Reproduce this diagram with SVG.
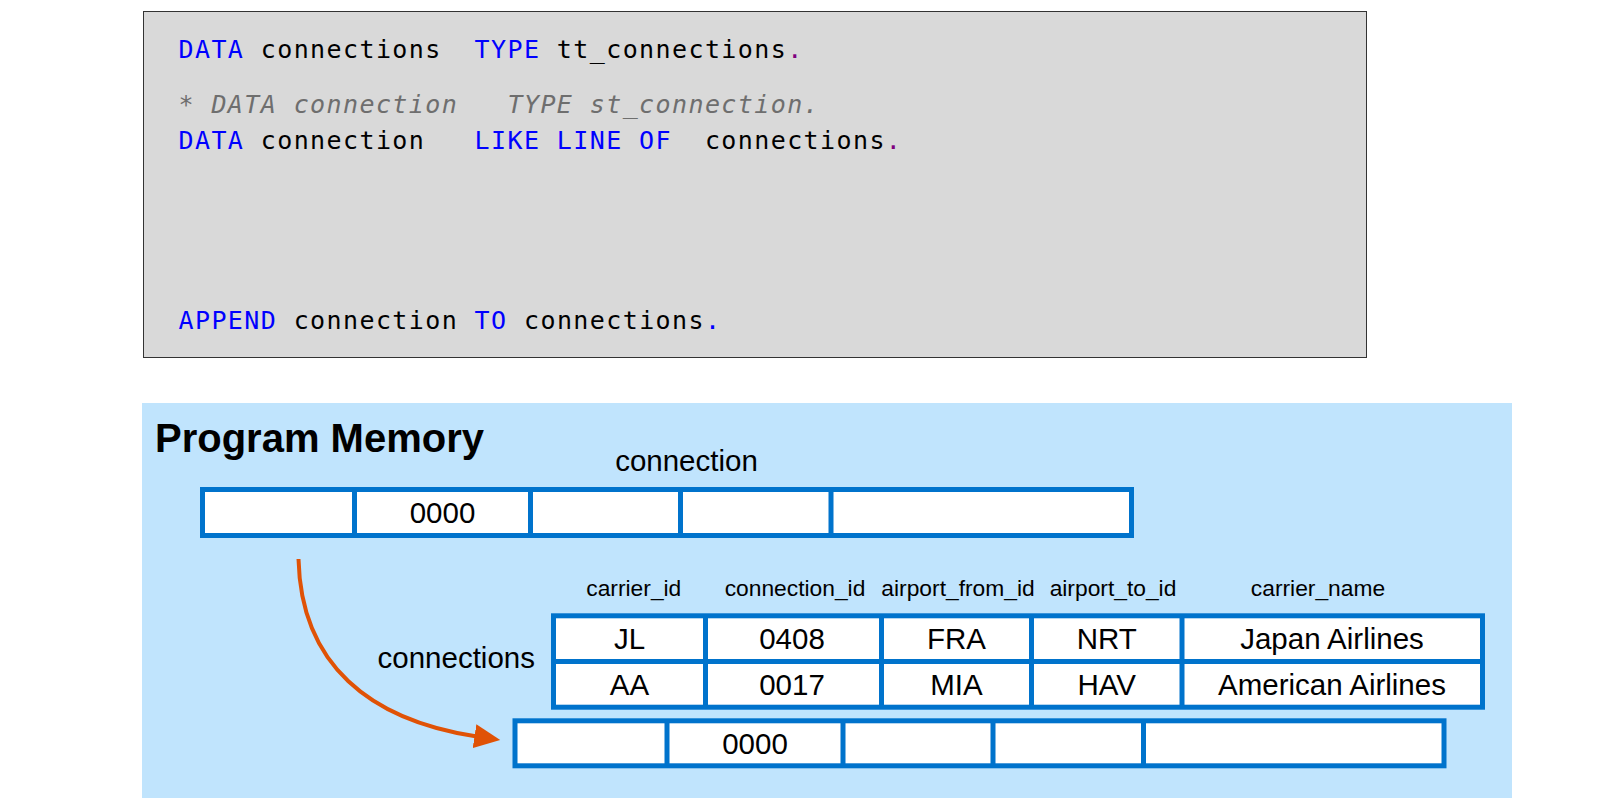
<svg xmlns="http://www.w3.org/2000/svg" width="1600" height="810" viewBox="0 0 1600 810">
<defs>
<style>
.code{font-family:"DejaVu Sans Mono",monospace;font-size:25px;letter-spacing:1.4px;fill:#000}
.kw{fill:#0000ff}
.pu{fill:#800080}
.cm{fill:#6e6e6e;font-style:italic}
.cell{fill:#fff;stroke:#0073cc;stroke-width:5}
.div{stroke:#0073cc;stroke-width:5;fill:none}
.val{font-family:"Liberation Sans",Arial,sans-serif;font-size:29.5px;fill:#000;text-anchor:middle}
.hdr{font-family:"Liberation Sans",Arial,sans-serif;font-size:22.8px;fill:#000;text-anchor:middle}
.lbl{font-family:"Liberation Sans",Arial,sans-serif;font-size:29.5px;fill:#000}
.arrow{fill:none;stroke:#e05206;stroke-width:4}
</style>
<marker id="ah" markerUnits="userSpaceOnUse" markerWidth="27" markerHeight="26" viewBox="0 0 27 26" refX="1" refY="13" orient="auto">
<path d="M0,1 L26,13 L0,25 z" fill="#e05206"/>
</marker>
</defs>
<rect width="1600" height="810" fill="#fff"/>

<g id="code-box">
<rect x="143.5" y="11.5" width="1223" height="346" fill="#d9d9d9" stroke="#333" stroke-width="1"/>
<text class="code" y="57.7"><tspan class="kw" x="178.5">DATA</tspan><tspan x="260.75">connections</tspan><tspan class="kw" x="474.6">TYPE</tspan><tspan x="556.85">tt_connections</tspan><tspan class="pu" x="787.2">.</tspan></text>
<text class="code cm" y="113"><tspan x="178.5">*</tspan><tspan x="211.4">DATA connection</tspan><tspan x="507.5">TYPE st_connection.</tspan></text>
<text class="code" y="149"><tspan class="kw" x="178.5">DATA</tspan><tspan x="260.75">connection</tspan><tspan class="kw" x="474.6">LIKE</tspan><tspan class="kw" x="556.85">LINE</tspan><tspan class="kw" x="639.1">OF</tspan><tspan x="704.9">connections</tspan><tspan class="pu" x="885.85">.</tspan></text>
<text class="code" y="329"><tspan class="kw" x="178.5">APPEND</tspan><tspan x="293.65">connection</tspan><tspan class="kw" x="474.6">TO</tspan><tspan x="524">connections</tspan><tspan class="kw" x="704.9">.</tspan></text>
</g>

<g id="memory-panel">
<rect x="142" y="403" width="1370" height="395" fill="#c0e4fd"/>
<text x="155" y="451.7" font-family="'Liberation Sans',Arial,sans-serif" font-size="40" font-weight="bold" fill="#000">Program Memory</text>
</g>

<g id="connection-row">
<text class="lbl" x="686.5" y="471" text-anchor="middle">connection</text>
<rect class="cell" x="202.5" y="489.5" width="929" height="46"/>
<path class="div" d="M354.5,489.5V535.5M530.5,489.5V535.5M680.5,489.5V535.5M831,489.5V535.5"/>
<text class="val" x="442.5" y="523.2">0000</text>
</g>

<g id="connections-table">
<text class="lbl" x="377.5" y="667.7">connections</text>
<text class="hdr" x="633.8" y="595.5">carrier_id</text>
<text class="hdr" x="795" y="595.5">connection_id</text>
<text class="hdr" x="958" y="595.5">airport_from_id</text>
<text class="hdr" x="1113" y="595.5">airport_to_id</text>
<text class="hdr" x="1318" y="595.5">carrier_name</text>
<rect class="cell" x="553.5" y="615.8" width="929" height="91.4"/>
<path class="div" d="M553.5,661.5H1482.5M705.5,615.8V707.2M881.5,615.8V707.2M1031.5,615.8V707.2M1182,615.8V707.2"/>
<text class="val" x="629.5" y="649.3">JL</text>
<text class="val" x="792" y="649.3">0408</text>
<text class="val" x="956.5" y="649.3">FRA</text>
<text class="val" x="1106.8" y="649.3">NRT</text>
<text class="val" x="1332" y="649.3">Japan Airlines</text>
<text class="val" x="629.5" y="695">AA</text>
<text class="val" x="792" y="695">0017</text>
<text class="val" x="956.5" y="695">MIA</text>
<text class="val" x="1106.8" y="695">HAV</text>
<text class="val" x="1332" y="695">American Airlines</text>
</g>

<g id="new-row">
<rect class="cell" x="515" y="720.8" width="929" height="45"/>
<path class="div" d="M667,720.8V765.8M843,720.8V765.8M993,720.8V765.8M1143.5,720.8V765.8"/>
<text class="val" x="755" y="754">0000</text>
</g>

<g id="connectors">
<path class="arrow" d="M298.5,559 C301,665 370,720 475.5,736.3" marker-end="url(#ah)"/>
</g>
</svg>
